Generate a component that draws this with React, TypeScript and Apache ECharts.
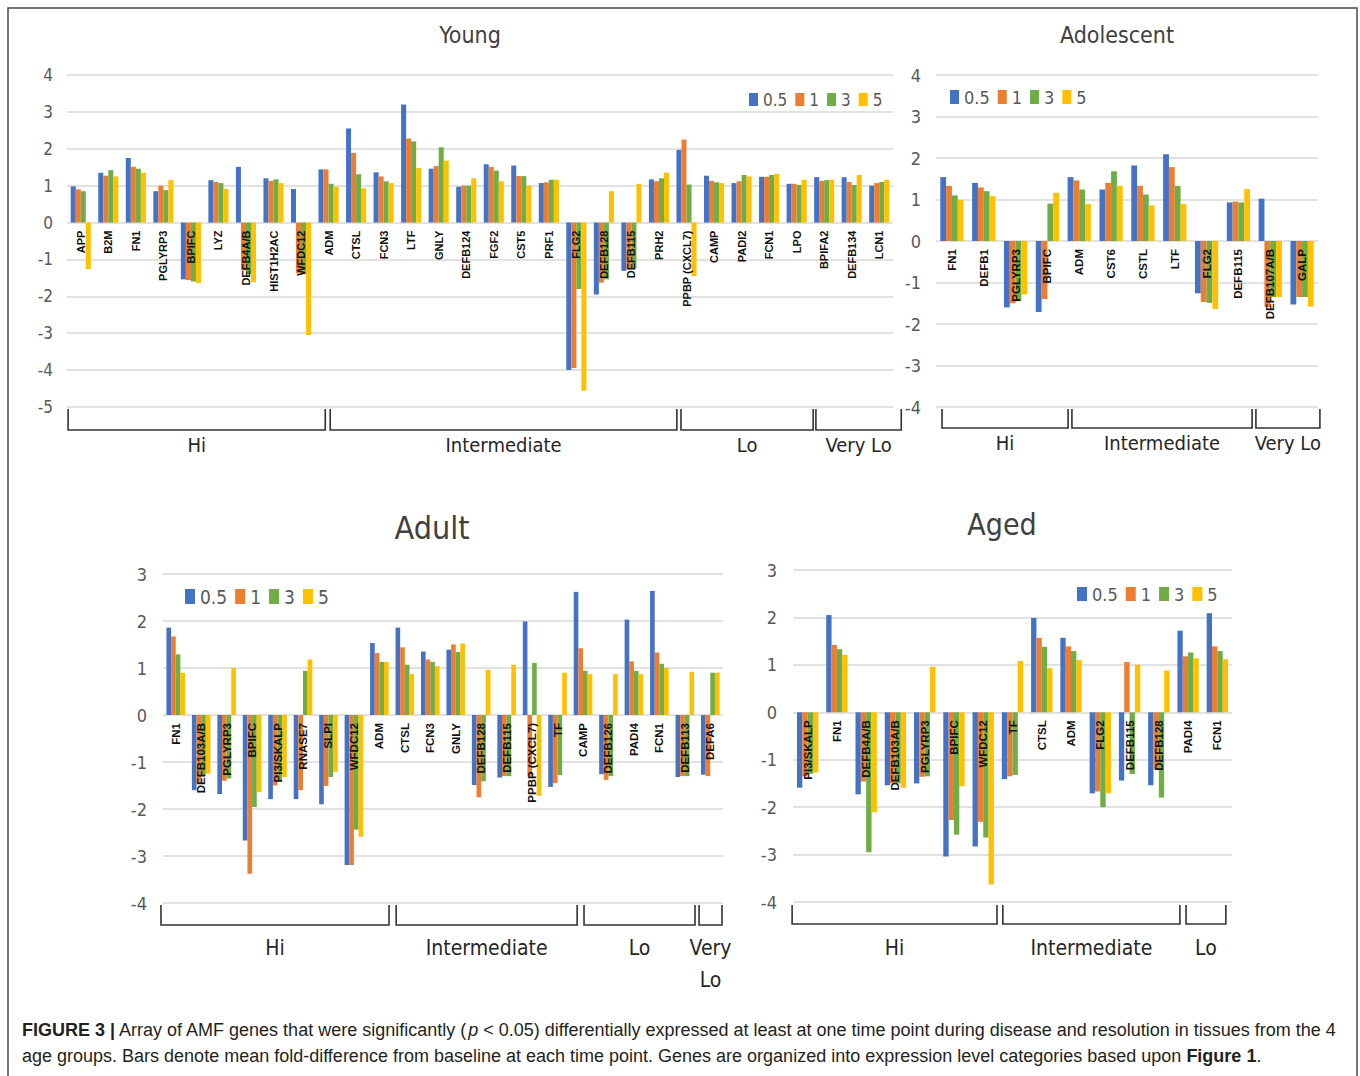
import React, { useEffect, useRef } from "react";
import * as echarts from "echarts";

// ---------- data ----------
const timePoints = ["0.5", "1", "3", "5"];
const barColors = ["#4472C4", "#ED7D31", "#70AD47", "#FFC000"];

// Young
const youngGenes = ["APP", "B2M", "FN1", "PGLYRP3", "BPIFC", "LYZ", "DEFB4A/B", "HIST1H2AC", "WFDC12", "ADM", "CTSL", "FCN3", "LTF", "GNLY", "DEFB124", "FGF2", "CST5", "PRF1", "FLG2", "DEFB128", "DEFB115", "PRH2", "PPBP (CXCL7)", "CAMP", "PADI2", "FCN1", "LPO", "BPIFA2", "DEFB134", "LCN1"];
const young05 = [0.98, 1.35, 1.75, 0.85, -1.54, 1.15, 1.51, 1.2, 0.91, 1.44, 2.55, 1.36, 3.2, 1.46, 0.97, 1.58, 1.55, 1.07, -4.0, -1.95, -1.31, 1.17, 1.97, 1.27, 1.07, 1.24, 1.05, 1.23, 1.23, 1.0];
const young1 = [0.9, 1.27, 1.51, 1.0, -1.56, 1.1, -1.3, 1.13, -1.38, 1.44, 1.89, 1.25, 2.28, 1.53, 1.0, 1.51, 1.26, 1.09, -3.94, -1.63, -1.25, 1.12, 2.25, 1.13, 1.12, 1.24, 1.05, 1.13, 1.1, 1.07];
const young3 = [0.85, 1.42, 1.46, 0.88, -1.6, 1.07, -1.4, 1.17, -1.4, 1.05, 1.31, 1.12, 2.2, 2.04, 1.0, 1.41, 1.26, 1.16, -1.8, -1.54, -1.25, 1.2, 1.03, 1.09, 1.29, 1.29, 1.02, 1.15, 1.02, 1.1];
const young5 = [-1.26, 1.25, 1.35, 1.15, -1.64, 0.91, -1.62, 1.07, -3.05, 0.97, 0.93, 1.07, 1.48, 1.68, 1.2, 1.12, 1.0, 1.16, -4.56, 0.85, 1.05, 1.35, -1.45, 1.07, 1.25, 1.32, 1.16, 1.16, 1.29, 1.16];
const youngGroupLabels = ["Hi", "Intermediate", "Lo", "Very Lo"];
const youngGroupSpans = [[-0.46, 8.88], [9.06, 21.65], [21.8, 26.6], [26.7, 29.8]];

// Adolescent
const adolGenes = ["FN1", "DEFB1", "PGLYRP3", "BPIFC", "ADM", "CST6", "CSTL", "LTF", "FLG2", "DEFB115", "DEFB107A/B", "GALP"];
const adol05 = [1.54, 1.4, -1.6, -1.71, 1.54, 1.24, 1.82, 2.09, -1.26, 0.93, 1.02, -1.53];
const adol1 = [1.33, 1.29, -1.5, -1.4, 1.46, 1.4, 1.33, 1.78, -1.47, 0.95, -1.59, -1.35];
const adol3 = [1.1, 1.2, -1.45, 0.9, 1.24, 1.68, 1.12, 1.33, -1.49, 0.93, -1.35, -1.35];
const adol5 = [0.99, 1.08, -1.29, 1.16, 0.89, 1.33, 0.86, 0.89, -1.64, 1.25, -1.35, -1.58];
const adolGroupLabels = ["Hi", "Intermediate", "Very Lo"];
const adolGroupSpans = [[-0.31, 3.65], [3.77, 9.43], [9.55, 11.56]];

// Adult
const adultGenes = ["FN1", "DEFB103A/B", "PGLYRP3", "BPIFC", "PI3/SKALP", "RNASE7", "SLPI", "WFDC12", "ADM", "CTSL", "FCN3", "GNLY", "DEFB128", "DEFB115", "PPBP (CXCL7)", "TF", "CAMP", "DEFB126", "PADI4", "FCN1", "DEFB113", "DEFA6"];
const adult05 = [1.86, -1.6, -1.68, -2.67, -1.79, -1.79, -1.9, -3.19, 1.53, 1.86, 1.35, 1.39, -1.49, -1.33, 1.99, -1.53, 2.62, -1.26, 2.03, 2.64, -1.32, -1.27];
const adult1 = [1.67, -1.45, -1.4, -3.38, -1.5, -1.6, -1.51, -3.19, 1.32, 1.44, 1.18, 1.5, -1.75, -1.3, -1.3, -1.45, 1.42, -1.38, 1.14, 1.33, -1.3, -1.3];
const adult3 = [1.29, -1.3, -1.35, -1.96, -1.4, 0.94, -1.32, -2.44, 1.13, 1.07, 1.13, 1.34, -1.41, -1.3, 1.11, -1.28, 0.94, -1.3, 0.94, 1.09, -1.3, 0.9];
const adult5 = [0.9, -1.25, 1.0, -1.64, -1.32, 1.18, -1.21, -2.59, 1.13, 0.87, 1.04, 1.52, 0.96, 1.07, -1.72, 0.9, 0.87, 0.87, 0.87, 1.0, 0.92, 0.9];
const adultGroupLabels = ["Hi", "Intermediate", "Lo", "Very\nLo"];
const adultGroupSpans = [[-0.58, 8.38], [8.66, 15.77], [16.04, 20.4], [20.56, 21.46]];

// Aged
const agedGenes = ["PI3/SKALP", "FN1", "DEFB4A/B", "DEFB103A/B", "PGLYRP3", "BPIFC", "WFDC12", "TF", "CTSL", "ADM", "FLG2", "DEFB115", "DEFB128", "PADI4", "FCN1"];
const aged05 = [-1.59, 2.05, -1.73, -1.54, -1.5, -3.04, -2.83, -1.41, 1.99, 1.57, -1.71, -1.44, -1.54, 1.72, 2.09];
const aged1 = [-1.35, 1.42, -1.46, -1.5, -1.36, -2.27, -2.31, -1.35, 1.57, 1.39, -1.67, 1.06, -1.2, 1.18, 1.39];
const aged3 = [-1.3, 1.33, -2.95, -1.5, -1.35, -2.58, -2.64, -1.32, 1.38, 1.29, -2.0, -1.3, -1.8, 1.26, 1.29];
const aged5 = [-1.27, 1.21, -2.11, -1.59, 0.96, -1.56, -3.63, 1.08, 0.93, 1.1, -1.71, 1.0, 0.88, 1.14, 1.12];
const agedGroupLabels = ["Hi", "Intermediate", "Lo"];
const agedGroupSpans = [[-0.53, 6.47], [6.67, 12.72], [12.93, 14.29]];

const captionLine1 = "{b|FIGURE 3 |} Array of AMF genes that were significantly ({i|p} < 0.05) differentially expressed at least at one time point during disease and resolution in tissues from the 4";
const captionLine2 = "age groups. Bars denote mean fold-difference from baseline at each time point. Genes are organized into expression level categories based upon {b|Figure 1}.";

// ---------- layout ----------
const CF = '"Liberation Sans Narrow", "DejaVu Sans Condensed", "Roboto Condensed", sans-serif';
const AF = '"Liberation Sans", Arial, sans-serif';
const CAP = 18;

const panels = [
  {
    title: "Young", titleX: 470, titleY: 35, titleSize: 23,
    genes: youngGenes, values: [young05, young1, young3, young5],
    yMin: -5, yMax: 4, yFont: 17, yMargin: 14, labelSize: 11,
    grid: { left: 67, top: 75, width: 826, height: 332 },
    legend: { left: 749, top: 91, size: 17, w: 9, h: 13 },
    groupLabels: youngGroupLabels, groupSpans: youngGroupSpans,
    bTop: 409, bBot: 430, bLabelY: 445, bFont: 20,
  },
  {
    title: "Adolescent", titleX: 1117, titleY: 35, titleSize: 23,
    genes: adolGenes, values: [adol05, adol1, adol3, adol5],
    yMin: -4, yMax: 4, yFont: 18, yMargin: 15, labelSize: 11.5,
    grid: { left: 936, top: 75, width: 382, height: 332 },
    legend: { left: 950, top: 88, size: 18, w: 9, h: 14 },
    groupLabels: adolGroupLabels, groupSpans: adolGroupSpans,
    bTop: 409, bBot: 428, bLabelY: 443, bFont: 20,
  },
  {
    title: "Adult", titleX: 432, titleY: 528, titleSize: 32,
    genes: adultGenes, values: [adult05, adult1, adult3, adult5],
    yMin: -4, yMax: 3, yFont: 18, yMargin: 16, labelSize: 11.5,
    grid: { left: 163, top: 574, width: 560, height: 329 },
    legend: { left: 185, top: 587, size: 19, w: 10, h: 15 },
    groupLabels: adultGroupLabels, groupSpans: adultGroupSpans,
    bTop: 905, bBot: 925, bLabelY: 948, bFont: 21,
  },
  {
    title: "Aged", titleX: 1002, titleY: 524, titleSize: 30,
    genes: agedGenes, values: [aged05, aged1, aged3, aged5],
    yMin: -4, yMax: 3, yFont: 18, yMargin: 16, labelSize: 11.5,
    grid: { left: 793, top: 570, width: 439, height: 332 },
    legend: { left: 1077, top: 585, size: 18, w: 10, h: 14 },
    groupLabels: agedGroupLabels, groupSpans: agedGroupSpans,
    bTop: 905, bBot: 924, bLabelY: 948, bFont: 21,
  },
];

export default function App() {
  const ref = useRef<HTMLDivElement>(null);

  useEffect(() => {
    if (!ref.current) return;
    const chart = echarts.init(ref.current, undefined, { renderer: "svg" });

    const series: any[] = [];
    panels.forEach((p, pi) => {
      timePoints.forEach((tp, ti) => {
        series.push({
          type: "bar",
          name: tp,
          xAxisIndex: pi,
          yAxisIndex: pi,
          data: p.values[ti],
          itemStyle: { color: barColors[ti] },
          barGap: "0%",
          barCategoryGap: "27%",
          z: 2,
        });
      });
    });

    chart.setOption({
      animation: false,
      color: barColors,
      backgroundColor: "#ffffff",
      grid: panels.map((p) => ({ ...p.grid, containLabel: false })),
      xAxis: panels.map((p, pi) => ({
        type: "category",
        gridIndex: pi,
        data: p.genes,
        axisLine: { show: false },
        axisTick: { show: false },
        axisLabel: { show: false },
      })),
      yAxis: panels.map((p, pi) => ({
        type: "value",
        gridIndex: pi,
        min: p.yMin,
        max: p.yMax,
        interval: 1,
        axisLine: { show: false },
        axisTick: { show: false },
        splitLine: { lineStyle: { color: "#d9d9d9", width: 1.5 } },
        axisLabel: { fontSize: p.yFont, color: "#595959", fontFamily: CF, margin: p.yMargin },
      })),
      legend: panels.map((p) => ({
        data: timePoints,
        left: p.legend.left,
        top: p.legend.top,
        icon: "rect",
        itemWidth: p.legend.w,
        itemHeight: p.legend.h,
        itemGap: 8,
        selectedMode: false,
        padding: 0,
        textStyle: { fontSize: p.legend.size, color: "#595959", fontFamily: CF },
      })),
      series,
    });

    // gene labels at the zero line, brackets, titles, frame and caption
    const graphics: any[] = [];
    graphics.push({
      type: "rect",
      shape: { x: 8, y: 8, width: 1349, height: 1100 },
      style: { fill: "none", stroke: "#4a4a4a", lineWidth: 1.5 },
      silent: true,
    });
    panels.forEach((p, pi) => {
      graphics.push({
        type: "text",
        x: p.titleX,
        y: p.titleY,
        style: {
          text: p.title,
          fontSize: p.titleSize,
          fontFamily: CF,
          fill: "#404040",
          textAlign: "center",
          textVerticalAlign: "middle",
        },
      });
      const y0 = chart.convertToPixel({ yAxisIndex: pi } as any, 0) as unknown as number;
      p.genes.forEach((g, gi) => {
        const gx = chart.convertToPixel({ xAxisIndex: pi } as any, gi) as unknown as number;
        graphics.push({
          type: "text",
          x: gx,
          y: y0 + 8,
          rotation: Math.PI / 2,
          z: 100,
          style: {
            text: g,
            fontSize: p.labelSize,
            fontWeight: "bold",
            fontFamily: AF,
            fill: "#111111",
            textAlign: "right",
            textVerticalAlign: "middle",
          },
        });
      });
      const p0 = chart.convertToPixel({ xAxisIndex: pi } as any, 0) as unknown as number;
      const p1 = chart.convertToPixel({ xAxisIndex: pi } as any, 1) as unknown as number;
      const step = p1 - p0;
      p.groupSpans.forEach((span, gi) => {
        const x1 = p0 + span[0] * step;
        const x2 = p0 + span[1] * step;
        graphics.push({
          type: "polyline",
          shape: { points: [[x1, p.bTop], [x1, p.bBot], [x2, p.bBot], [x2, p.bTop]] },
          style: { fill: "none", stroke: "#333333", lineWidth: 1.6 },
          silent: true,
        });
        graphics.push({
          type: "text",
          x: (x1 + x2) / 2,
          y: p.bLabelY - 16,
          style: {
            text: p.groupLabels[gi],
            fontSize: p.bFont,
            fontFamily: CF,
            fill: "#262626",
            textAlign: "center",
            textVerticalAlign: "top",
            lineHeight: 32,
          },
        });
      });
    });
    const rich = {
      b: { fontWeight: "bold", fontSize: CAP, fontFamily: AF, fill: "#231f20" },
      i: { fontStyle: "italic", fontSize: CAP, fontFamily: AF, fill: "#231f20" },
    };
    graphics.push({
      type: "text",
      x: 22,
      y: 1030,
      style: { text: captionLine1, rich, fontSize: CAP, fontFamily: AF, fill: "#231f20", textVerticalAlign: "middle" },
    });
    graphics.push({
      type: "text",
      x: 22,
      y: 1056,
      style: { text: captionLine2, rich, fontSize: CAP, fontFamily: AF, fill: "#231f20", textVerticalAlign: "middle" },
    });

    chart.setOption({ graphic: graphics });

    return () => chart.dispose();
  }, []);

  return (
    <div
      ref={ref}
      style={{ position: "absolute", left: 0, top: 0, width: 1360, height: 1076, background: "#fff" }}
    />
  );
}
